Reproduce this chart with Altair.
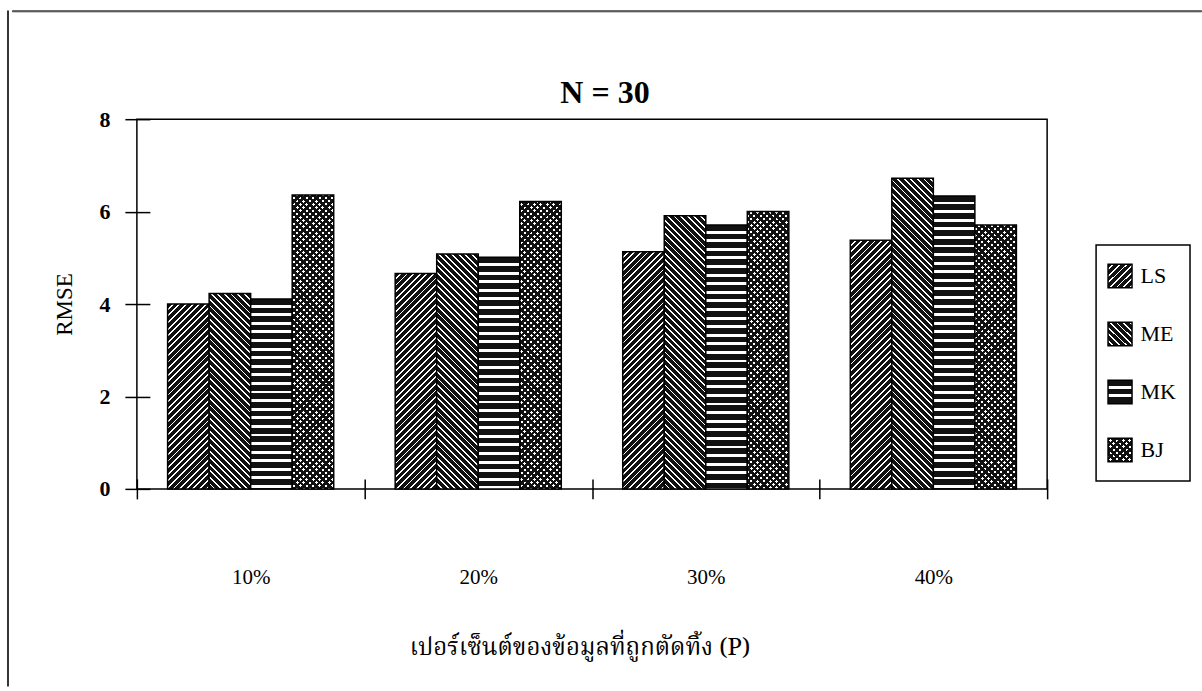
import altair as alt
import pandas as pd

# ---------------- data ----------------
groups = ["10%", "20%", "30%", "40%"]
series = ["LS", "ME", "MK", "BJ"]
ls_vals = [4.00, 4.66, 5.13, 5.38]
me_vals = [4.23, 5.08, 5.91, 6.72]
mk_vals = [4.11, 5.01, 5.71, 6.34]
bj_vals = [6.36, 6.22, 6.00, 5.71]
y_ticks = [0, 2, 4, 6, 8]
title_text = "N = 30"
x_title = "เปอร์เซ็นต์ของข้อมูลที่ถูกตัดทิ้ง (P)"
y_title = "RMSE"

values = {"LS": ls_vals, "ME": me_vals, "MK": mk_vals, "BJ": bj_vals}
rows = []
for gi, g in enumerate(groups):
    for s in series:
        rows.append({"group": g, "series": s, "rmse": values[s][gi]})
df = pd.DataFrame(rows)
leg_df = pd.DataFrame({"series": series, "slot": ["s"] * len(series)})
dummy = pd.DataFrame({"a": [0]})

# ---------------- layout constants ----------------
PLOT_W = 911
PLOT_H = 370
YMAX = 8
OUTER_PAD = 0.74
BAR_W = PLOT_W / len(groups) / (len(series) + 2 * OUTER_PAD)
SERIF = "Liberation Serif, Times New Roman, serif"
THAI = "Noto Serif Thai, Noto Sans Thai, Loma, Garuda, Norasi, Tlwg Typo, DejaVu Sans, sans-serif"
BLACK = "#111111"
WHITE = "#ffffff"
CLEAR = "rgba(0,0,0,0)"

# pattern definitions: (kind, period, white fraction, on colour, off colour)
PAT = {
    "LS": [("up", 6.6, 0.28, WHITE, BLACK)],
    "ME": [("down", 6.6, 0.28, WHITE, BLACK)],
    "MK": [("horiz", 8.6, 0.34, WHITE, BLACK)],
    "BJ": [("up", 6.4, 0.46, WHITE, BLACK), ("down", 6.4, 0.46, CLEAR, BLACK)],
}


def stripe_stops(S, P, f, c_on, c_off):
    stops = []
    pos = 0.0
    while pos < S - 1e-9:
        b = min(pos + (1 - f) * P, S)
        stops.append((pos / S, c_off))
        stops.append((b / S, c_off))
        if b >= S:
            break
        e = min(pos + P, S)
        stops.append((b / S, c_on))
        stops.append((e / S, c_on))
        pos += P
    out = []
    last = 0.0
    for o, c in stops:
        o = max(last, min(1.0, round(o, 5)))
        last = o
        out.append({"color": c, "offset": o})
    return out


def gradient(kind, w, h, P, f, c_on, c_off):
    if kind == "horiz":
        S = h
        x1, y1, x2, y2 = 0, 0, 0, 1
    else:
        S = w + h
        k = (w + h) / (w * w + h * h)
        if kind == "up":
            x1, y1, x2, y2 = 0, 0, k * w, k * h
        else:
            x1, y1, x2, y2 = 0, 1, k * w, 1 - k * h
    return {
        "gradient": "linear",
        "x1": round(x1, 5), "y1": round(y1, 5),
        "x2": round(x2, 5), "y2": round(y2, 5),
        "stops": stripe_stops(S, P, f, c_on, c_off),
    }


# ---------------- main chart ----------------
x_axis = alt.Axis(
    tickBand="extent", offset=-10, tickSize=20, domain=False, labelAngle=0,
    labelPadding=68, labelFont=SERIF, labelFontSize=21, labelColor="black",
    tickColor="black", tickWidth=1.5, titleFont=THAI, titleFontSize=24,
    titleFontWeight="normal", titleColor="black", titlePadding=48, titleX=443,
    titleAlign="center", grid=False,
)
y_axis = alt.Axis(
    values=y_ticks, offset=-13, tickSize=25, domain=False, labelPadding=15,
    labelFont=SERIF, labelFontSize=22, labelFontWeight="bold", labelColor="black",
    tickColor="black", tickWidth=1.5, titleFont=SERIF, titleFontSize=23,
    titleFontWeight="normal", titleColor="black", titlePadding=22, grid=False,
)

enc = dict(
    x=alt.X("group:N", sort=groups, title=x_title, axis=x_axis,
            scale=alt.Scale(domain=groups, paddingInner=0, paddingOuter=0)),
    xOffset=alt.XOffset("series:N", sort=series,
                        scale=alt.Scale(domain=series, paddingInner=0, paddingOuter=OUTER_PAD)),
    y=alt.Y("rmse:Q", title=y_title, axis=y_axis,
            scale=alt.Scale(domain=[0, YMAX], nice=False, zero=True)),
)

layers = []
for s in series:
    for gi, g in enumerate(groups):
        h = values[s][gi] / YMAX * PLOT_H
        pats = PAT[s]
        for li, (kind, P, f, con, coff) in enumerate(pats):
            grad = gradient(kind, BAR_W, h, P, f, con, coff)
            if li == len(pats) - 1:
                mk = alt.Chart().mark_bar(fill=grad, stroke="black", strokeWidth=1.5)
            else:
                mk = alt.Chart().mark_bar(fill=grad, strokeWidth=0)
            layers.append(
                mk.transform_filter(f"datum.series === '{s}' && datum.group === '{g}'")
            )

main = alt.layer(*layers, data=df).encode(**enc).properties(
    width=PLOT_W, height=PLOT_H,
    title=alt.TitleParams(title_text, font=SERIF, fontSize=32, fontWeight="bold",
                          color="black", anchor="middle", frame="group", offset=-2, dx=13),
)

# ---------------- legend panel ----------------
LEG_W, LEG_H, SW = 94, 236, 24
leg_layers = []
for s in series:
    pats = PAT[s]
    for li, (kind, P, f, con, coff) in enumerate(pats):
        grad = gradient(kind, SW, SW, P, f, con, coff)
        if li == len(pats) - 1:
            mk = alt.Chart().mark_bar(fill=grad, stroke="black", strokeWidth=1.5)
        else:
            mk = alt.Chart().mark_bar(fill=grad, strokeWidth=0)
        leg_layers.append(mk.transform_filter(f"datum.series === '{s}'"))

legend_view = alt.layer(*leg_layers, data=leg_df).encode(
    x=alt.X("slot:N", axis=None,
            scale=alt.Scale(paddingInner=0.3143, paddingOuter=1, align=0.171)),
    y=alt.Y("series:N", sort=series, title="",
            scale=alt.Scale(domain=series, paddingInner=0.593, paddingOuter=0.33),
            axis=alt.Axis(orient="right", offset=-58, domain=False, ticks=False,
                          labelPadding=8, labelFont=SERIF, labelFontSize=22,
                          labelColor="black", grid=False)),
).properties(width=LEG_W, height=LEG_H)

leg_spacer = alt.Chart(dummy).mark_point(opacity=0).properties(
    width=LEG_W, height=10, view=alt.ViewBackground(stroke="transparent"))
legend_col = alt.vconcat(leg_spacer, legend_view, spacing=114)

left_spacer = alt.Chart(dummy).mark_point(opacity=0).properties(
    width=40, height=10, view=alt.ViewBackground(stroke="transparent"))

# outer frame lines (top and left edge of the page box)
top_line = alt.Chart(dummy).mark_point(opacity=0).properties(
    width=1190, height=1, view=alt.ViewBackground(stroke="#333333", strokeWidth=1))
left_line = alt.Chart(dummy).mark_point(opacity=0).properties(
    width=1, height=676, view=alt.ViewBackground(stroke="#333333", strokeWidth=1))

row = alt.hconcat(left_spacer, alt.hconcat(main, legend_col, spacing=46), spacing=0)
right_block = alt.vconcat(top_line, row, spacing=62)
chart = alt.hconcat(left_line, right_block, spacing=0).properties(
    padding={"left": 4, "top": 7, "right": 0, "bottom": 0},
    background="white",
).configure_view(stroke="black", strokeWidth=1.5)

chart.save("out.html", embed_options={"renderer": "svg", "actions": False})
